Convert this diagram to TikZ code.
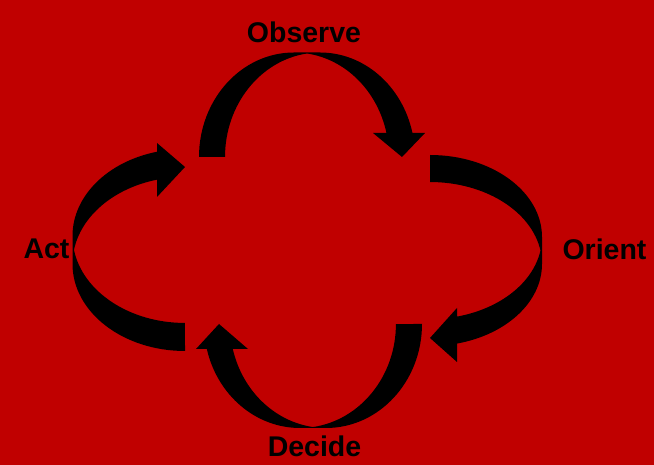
\documentclass[tikz,border=0pt]{standalone}
\usepackage{fontspec}
\setmainfont{Liberation Sans}
\definecolor{bgred}{HTML}{C00000}
\begin{document}
\begin{tikzpicture}[x=1pt,y=1pt,
  lbl/.style={anchor=base,font=\fontsize{28.5}{34}\selectfont\bfseries,text=black,inner sep=0pt},
  arrowfill/.style={fill=black}]
\fill[bgred] (0,0) rectangle (654,465);
\useasboundingbox (0,0) rectangle (654,465);
% Observe arrow (top)
\fill[arrowfill] (199,308) arc[start angle=180,end angle=90,x radius=95pt,y radius=104.5pt]
  -- (320,412.5) arc[start angle=90,end angle=13.28,x radius=95pt,y radius=104.5pt]
  -- (425,332) -- (402,308) -- (373,332) -- (386.46,332)
  arc[start angle=13.28,end angle=82.13,x radius=95pt,y radius=104.5pt]
  arc[start angle=97.87,end angle=180,x radius=95pt,y radius=104.5pt] -- cycle;
% Orient arrow (right)
\fill[arrowfill] (430,310) arc[start angle=90,end angle=0,x radius=112pt,y radius=82pt]
  -- (542,201) arc[start angle=0,end angle=-76.05,x radius=112pt,y radius=82pt]
  -- (457,103) -- (430,127) -- (457,157) -- (457,148.4)
  arc[start angle=-76.05,end angle=-9.48,x radius=112pt,y radius=82pt]
  arc[start angle=9.48,end angle=90,x radius=112pt,y radius=82pt] -- cycle;
% Decide arrow (bottom)
\fill[arrowfill] (422,141) arc[start angle=0,end angle=-90,x radius=96pt,y radius=104pt]
  -- (300,37) arc[start angle=-90,end angle=-166.1,x radius=96pt,y radius=104pt]
  -- (196,116) -- (219,141) -- (248,116) -- (232.8,116)
  arc[start angle=-166.1,end angle=-97.8,x radius=96pt,y radius=104pt]
  arc[start angle=-82.2,end angle=0,x radius=96pt,y radius=104pt] -- cycle;
% Act arrow (left)
\fill[arrowfill] (185,114) arc[start angle=-90,end angle=-180,x radius=112.5pt,y radius=87pt]
  -- (72.5,229) arc[start angle=180,end angle=104.41,x radius=112.5pt,y radius=87pt]
  -- (157,322) -- (185,298) -- (157,268) -- (157,285.3)
  arc[start angle=104.41,end angle=170.74,x radius=112.5pt,y radius=87pt]
  arc[start angle=189.26,end angle=270,x radius=112.5pt,y radius=87pt] -- cycle;
\node[lbl] (observe) at (304,422) {Observe};
\node[lbl] (orient) at (604.5,205) {Orient};
\node[lbl] (decide) at (314.5,8) {Decide};
\node[lbl] (act) at (46.5,206) {Act};
\end{tikzpicture}
\end{document}
